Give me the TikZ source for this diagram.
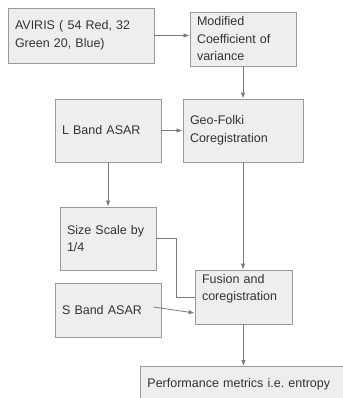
\documentclass[tikz,border=0pt]{standalone}
\usepackage{fontspec}
\setmainfont{Liberation Sans}
\usepackage{xcolor}
\usetikzlibrary{arrows.meta}

\definecolor{boxfill}{HTML}{EEEEEE}
\definecolor{boxline}{HTML}{9A9A9A}
\definecolor{flowline}{HTML}{7A7A7A}
\definecolor{boxtext}{HTML}{333333}

\tikzset{
  procbox/.style={draw=boxline,fill=boxfill,line width=0.9pt,inner sep=0pt,inner xsep=7pt,
    align=left,text=boxtext,font=\fontsize{12.5}{17.5}\selectfont},
  flow/.style={draw=flowline,line width=0.8pt},
  flowarrow/.style={flow,-{Latex[length=6pt,width=4.5pt]}}
}

\begin{document}
\begin{tikzpicture}[x=1pt,y=-1pt]

\useasboundingbox (0,0) rectangle (342,398);

\node (aviris)	at (81,35.5)	[procbox,minimum width=146,minimum height=55,text width=132] {AVIRIS ( 54 Red, 32\\Green 20, Blue)};
\node (modcov)	at (243,39)	[procbox,minimum width=106,minimum height=54,text width=92] {Modified\\Coefficient of\\variance};
\node (lband)	at (108,130.5)	[procbox,minimum width=106,minimum height=63,text width=92] {L Band ASAR};
\node (geofolki)	at (243,130.5)	[procbox,minimum width=120,minimum height=63,text width=106] {Geo-Folki\\Coregistration};
\node (sizescale)	at (108,238.5)	[procbox,minimum width=96,minimum height=63,text width=82] {Size Scale by\\1/4};
\node (fusion)	at (243.5,297)	[procbox,minimum width=97,minimum height=54,text width=83,text depth=37pt] {Fusion and\\coregistration};
\node (sband)	at (108,310)	[procbox,minimum width=106,minimum height=54,text width=92] {S Band ASAR};
\node (perf)	at (140,366)	[procbox,anchor=north west,minimum width=215,minimum height=44,text width=201,text depth=10pt] {Performance metrics i.e.\ entropy};

\draw [flowarrow] (aviris.east) -- (aviris.east -| modcov.west);
\draw [flowarrow] (modcov.south) -- (modcov.south |- geofolki.north);
\draw [flowarrow] (lband.east) -- (geofolki.west);
\draw [flowarrow] (lband.south) -- (sizescale.north);
\draw [flowarrow] (geofolki.south) -- (geofolki.south |- fusion.north);
\draw [flow] (sizescale.east) -- ++(20,0) |- (fusion.west);
\draw [flowarrow] ([xshift=-8pt,yshift=3pt]sband.east) -- ([yshift=-16pt]fusion.west);
\draw [flowarrow] (fusion.south) -- (fusion.south |- perf.north);

\end{tikzpicture}
\end{document}
